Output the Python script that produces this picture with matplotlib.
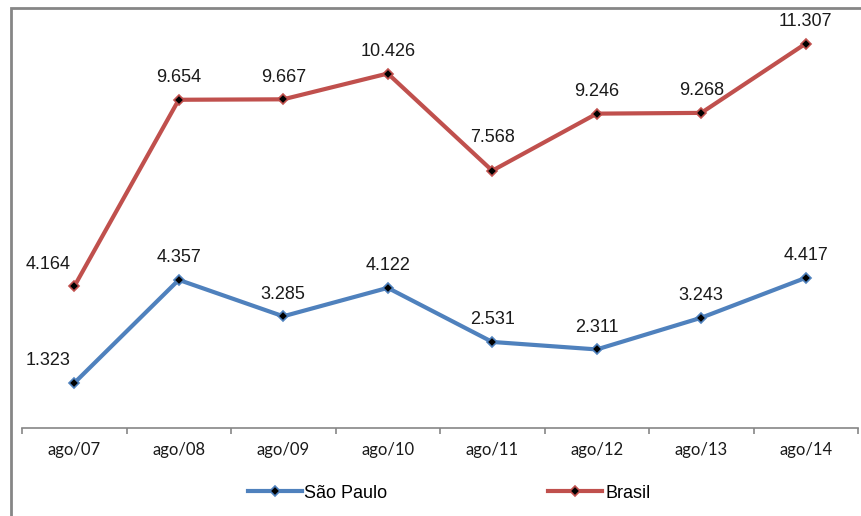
import matplotlib.pyplot as plt
from matplotlib.patches import Rectangle

meses = ['ago/07', 'ago/08', 'ago/09', 'ago/10', 'ago/11', 'ago/12', 'ago/13', 'ago/14']
sao_paulo = [1.323, 4.357, 3.285, 4.122, 2.531, 2.311, 3.243, 4.417]
brasil = [4.164, 9.654, 9.667, 10.426, 7.568, 9.246, 9.268, 11.307]

azul = '#4F81BD'
vermelho = '#C0504D'
cinza = '#868686'

fig = plt.figure(figsize=(8.61, 5.16), dpi=100)
ax = fig.add_axes([22 / 861, 1 - 428 / 516, 836 / 861, 408 / 516])

x = list(range(len(meses)))
for serie, cor, nome in [(sao_paulo, azul, 'São Paulo'), (brasil, vermelho, 'Brasil')]:
    ax.plot(x, serie, color=cor, linewidth=3, marker='D', markersize=5,
            markerfacecolor='black', markeredgecolor=cor, markeredgewidth=1.2, label=nome)
    for i, v in enumerate(serie):
        dx = -19 if i == 0 else 0
        dy = 24 if v == 7.568 else 16
        ax.annotate(f'{v:.3f}', (i, v), xytext=(dx, dy), textcoords='offset points',
                    ha='center', va='center', fontsize=13, family='Liberation Sans',
                    color='#1a1a1a')

ax.set_xlim(-0.5, len(meses) - 0.5)
ax.set_ylim(0, 12)
for s in ['top', 'right', 'left']:
    ax.spines[s].set_visible(False)
ax.spines['bottom'].set_color(cinza)
ax.spines['bottom'].set_linewidth(1.2)
ax.set_yticks([])
ax.set_xticks([i - 0.5 for i in range(len(meses) + 1)])
ax.set_xticklabels([])
ax.tick_params(axis='x', which='major', length=4, color=cinza, width=1.2)
ax.set_xticks(x, minor=True)
ax.set_xticklabels(meses, minor=True, fontsize=12, family='Lato', color='#1a1a1a')
ax.tick_params(axis='x', which='minor', length=0, pad=10)

fig.legend(loc='center', bbox_to_anchor=(449 / 861, 1 - 493 / 516), ncol=2, frameon=False,
           prop={'family': 'Liberation Sans', 'size': 13}, handlelength=3.0,
           handletextpad=0.15, columnspacing=8.9)

fig.patches.append(Rectangle((11 / 861, -0.1), 1.2, 1.1 - 8 / 516,
                             transform=fig.transFigure, fill=False, edgecolor=cinza,
                             linewidth=2))

fig.savefig('out.png', dpi=100)
